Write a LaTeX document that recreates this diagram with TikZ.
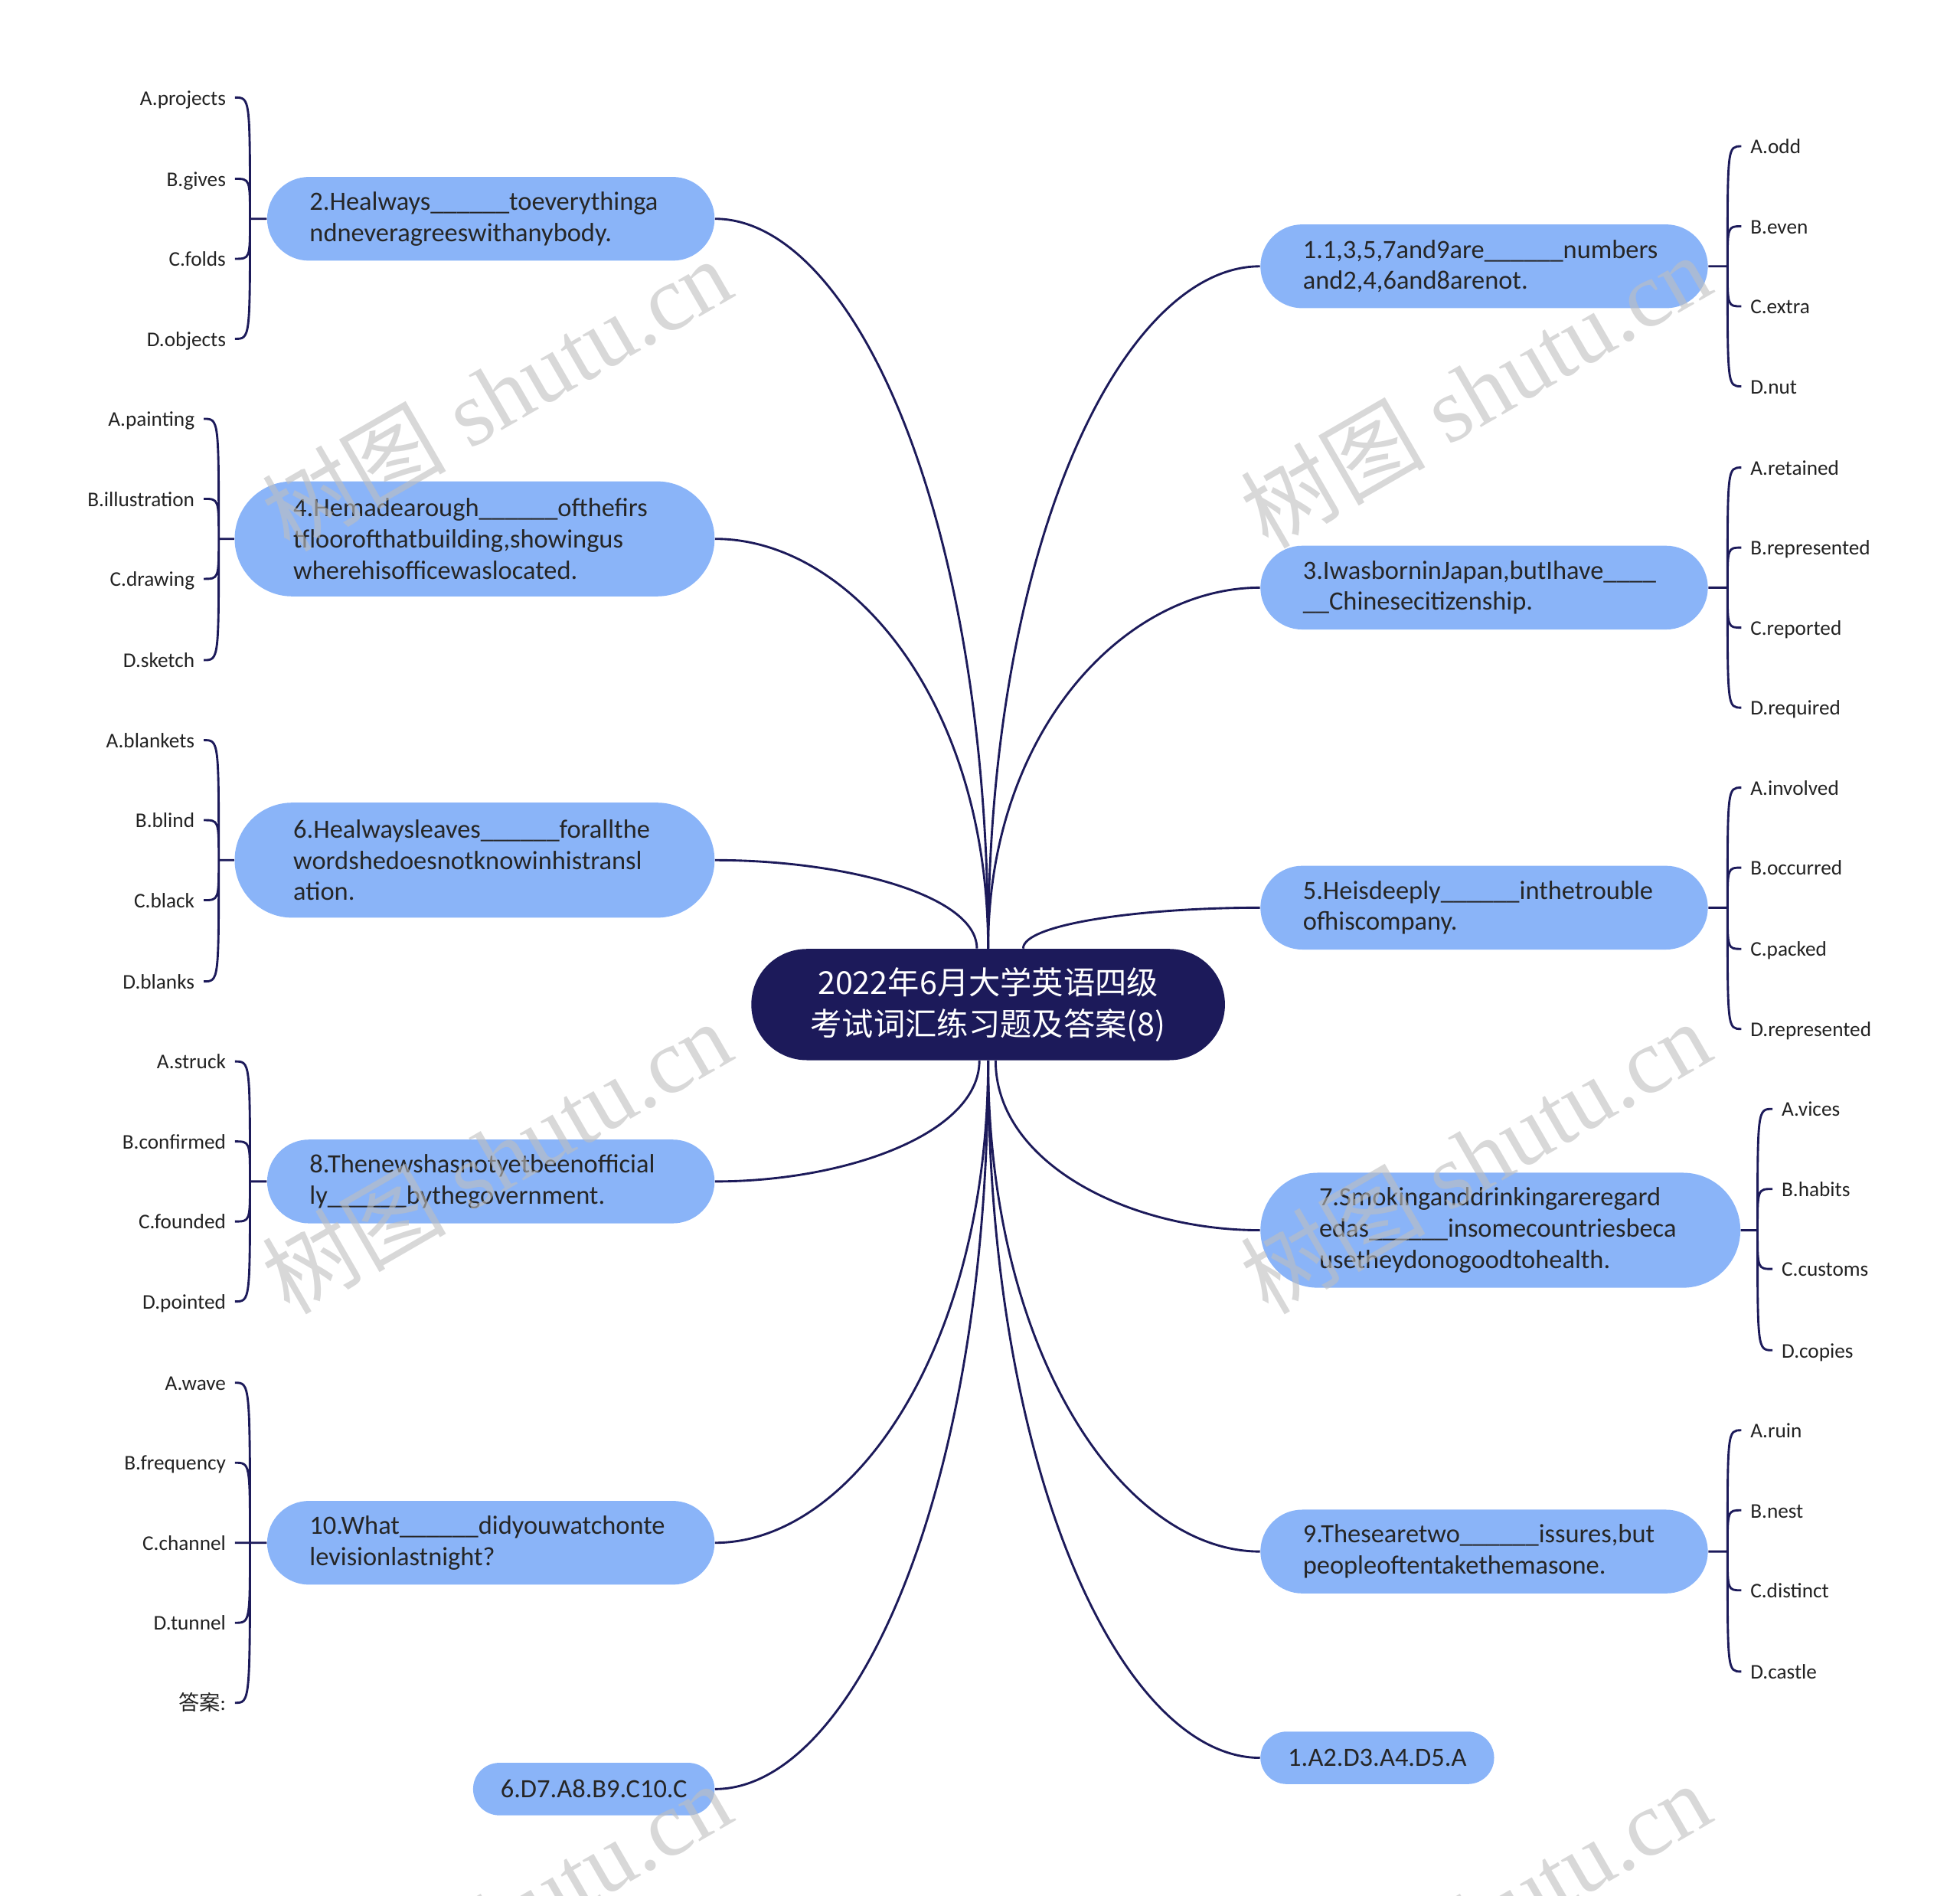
\documentclass[tikz,border=0pt]{standalone}
\usepackage{fontspec}
\setmainfont{Carlito}
\newfontfamily\cjk{Noto Sans CJK SC}
\newfontfamily\wmserif{Liberation Serif}
\usetikzlibrary{calc}
\definecolor{navyline}{RGB}{28,26,90}
\definecolor{topicblue}{RGB}{138,180,248}
\definecolor{leafgray}{RGB}{34,34,34}
\definecolor{markgray}{RGB}{190,190,190}
\newcommand{\qgap}{\_\_\_\_\_\_}

\begin{document}
\begin{tikzpicture}[
    x=0.02cm, y=-0.02cm,
    % Style definitions
    rootbox/.style={fill=navyline, text=white, rounded corners=0.89cm, align=center, minimum width=7.58cm, minimum height=1.78cm, inner sep=0pt, font=\cjk\fontsize{14.4}{18.7}\selectfont},
    qbox/.style={fill=topicblue, text=black!85, rounded corners=0.67cm, text width=5.8cm, align=left, inner xsep=0.68cm, inner ysep=0pt, minimum height=1.34cm, font=\fontsize{12}{14.2}\selectfont},
    qboxtall/.style={qbox, rounded corners=0.92cm, inner xsep=0.94cm, minimum height=1.84cm},
    ansbox/.style={fill=topicblue, text=black!85, rounded corners=0.42cm, inner xsep=0.44cm, inner ysep=0pt, minimum height=0.84cm, font=\fontsize{12}{14.2}\selectfont},
    leafl/.style={anchor=east, inner xsep=0.14cm, inner ysep=1pt, text height=7.8pt, text depth=1pt, text=leafgray, font=\fontsize{9.5}{11}\selectfont},
    leafr/.style={leafl, anchor=west},
    branch/.style={draw=navyline, line width=1pt, to path={.. controls ($(\tikztostart)!0.6!(\tikztostart|-\tikztotarget)$) and ($(\tikztotarget)!0.5!(\tikztotarget-|\tikztostart)$) .. (\tikztotarget)}},
    twig/.style={draw=navyline, line width=1pt, to path={.. controls (\tikztostart|-\tikztotarget) .. (\tikztotarget)}},
    watermark/.style={rotate=30, text=markgray, opacity=0.6, inner sep=0pt, font=\wmserif\fontsize{42}{42}\selectfont}
]
    \useasboundingbox (0,0) rectangle (1568,1516);
    \clip (0,0) rectangle (1568,1516);

    % === CENTRE ===
    \node (root) [rootbox] at (790.5,803.5) {2022年6月大学英语四级\\考试词汇练习题及答案(8)};

    % === RIGHT SIDE ===
    \node (q1) [qbox, anchor=west] at (1008,213) {1.1,3,5,7and9are\qgap numbers\\and2,4,6and8arenot.};
    \node (q3) [qbox, anchor=west] at (1008,470) {3.IwasborninJapan,butIhave\_\_\_\_\\\_\_Chinesecitizenship.};
    \node (q5) [qbox, anchor=west] at (1008,726) {5.Heisdeeply\qgap inthetrouble\\ofhiscompany.};
    \node (q7) [qboxtall, anchor=west] at (1008,984) {7.Smokinganddrinkingareregard\\edas\qgap insomecountriesbeca\\usetheydonogoodtohealth.};
    \node (q9) [qbox, anchor=west] at (1008,1241) {9.Thesearetwo\qgap issures,but\\peopleoftentakethemasone.};
    \node (ans1) [ansbox, anchor=west] at (1008,1406) {1.A2.D3.A4.D5.A};

    % === LEFT SIDE ===
    \node (q2) [qbox, anchor=east] at (572,175) {2.Healways\qgap toeverythinga\\ndneveragreeswithanybody.};
    \node (q4) [qboxtall, anchor=east] at (572,431) {4.Hemadearough\qgap ofthefirs\\tfloorofthatbuilding,showingus\\wherehisofficewaslocated.};
    \node (q6) [qboxtall, anchor=east] at (572,688) {6.Healwaysleaves\qgap forallthe\\wordshedoesnotknowinhistransl\\ation.};
    \node (q8) [qbox, anchor=east] at (572,945) {8.Thenewshasnotyetbeenofficial\\ly\qgap bythegovernment.};
    \node (q10) [qbox, anchor=east] at (572,1234) {10.What\qgap didyouwatchonte\\levisionlastnight?};
    \node (ans2) [ansbox, anchor=east] at (572,1431) {6.D7.A8.B9.C10.C};

    \draw [branch] (root.north) to (q1.west);
    \draw [branch] (root.north) to (q3.west);
    \draw [branch] ($(root.north)+(28,0)$) to (q5.west);
    \draw [branch] ($(root.south)+(6,0)$) to (q7.west);
    \draw [branch] (root.south) to (q9.west);
    \draw [branch] (root.south) to (ans1.west);
    \draw [branch] (root.north) to (q2.east);
    \draw [branch] (root.north) to (q4.east);
    \draw [branch] ($(root.north)+(-9,0)$) to (q6.east);
    \draw [branch] ($(root.south)+(-7,0)$) to (q8.east);
    \draw [branch] (root.south) to (q10.east);
    \draw [branch] (root.south) to (ans2.east);

    % === OPTIONS, RIGHT ===
    \coordinate (q1s) at (1382,213);
    \node (q1_a) [leafr] at (1393,117) {A.odd};
    \node (q1_b) [leafr] at (1393,181) {B.even};
    \node (q1_c) [leafr] at (1393,245) {C.extra};
    \node (q1_d) [leafr] at (1393,309) {D.nut};
    \draw [twig] (q1.east) -- (q1s) (q1s) to (q1_a.west) (q1s) to (q1_b.west) (q1s) to (q1_c.west) (q1s) to (q1_d.west);

    \coordinate (q3s) at (1382,470);
    \node (q3_a) [leafr] at (1393,374) {A.retained};
    \node (q3_b) [leafr] at (1393,438) {B.represented};
    \node (q3_c) [leafr] at (1393,502) {C.reported};
    \node (q3_d) [leafr] at (1393,566) {D.required};
    \draw [twig] (q3.east) -- (q3s) (q3s) to (q3_a.west) (q3s) to (q3_b.west) (q3s) to (q3_c.west) (q3s) to (q3_d.west);

    \coordinate (q5s) at (1382,726);
    \node (q5_a) [leafr] at (1393,630) {A.involved};
    \node (q5_b) [leafr] at (1393,694) {B.occurred};
    \node (q5_c) [leafr] at (1393,759) {C.packed};
    \node (q5_d) [leafr] at (1393,823) {D.represented};
    \draw [twig] (q5.east) -- (q5s) (q5s) to (q5_a.west) (q5s) to (q5_b.west) (q5s) to (q5_c.west) (q5s) to (q5_d.west);

    \coordinate (q7s) at (1406,984);
    \node (q7_a) [leafr] at (1418,887) {A.vices};
    \node (q7_b) [leafr] at (1418,951) {B.habits};
    \node (q7_c) [leafr] at (1418,1015) {C.customs};
    \node (q7_d) [leafr] at (1418,1080) {D.copies};
    \draw [twig] (q7.east) -- (q7s) (q7s) to (q7_a.west) (q7s) to (q7_b.west) (q7s) to (q7_c.west) (q7s) to (q7_d.west);

    \coordinate (q9s) at (1382,1241);
    \node (q9_a) [leafr] at (1393,1144) {A.ruin};
    \node (q9_b) [leafr] at (1393,1208) {B.nest};
    \node (q9_c) [leafr] at (1393,1272) {C.distinct};
    \node (q9_d) [leafr] at (1393,1337) {D.castle};
    \draw [twig] (q9.east) -- (q9s) (q9s) to (q9_a.west) (q9s) to (q9_b.west) (q9s) to (q9_c.west) (q9s) to (q9_d.west);

    % === OPTIONS, LEFT ===
    \coordinate (q2s) at (200,175);
    \node (q2_a) [leafl] at (188,78) {A.projects};
    \node (q2_b) [leafl] at (188,143) {B.gives};
    \node (q2_c) [leafl] at (188,207) {C.folds};
    \node (q2_d) [leafl] at (188,271) {D.objects};
    \draw [twig] (q2.west) -- (q2s) (q2s) to (q2_a.east) (q2s) to (q2_b.east) (q2s) to (q2_c.east) (q2s) to (q2_d.east);

    \coordinate (q4s) at (175,431);
    \node (q4_a) [leafl] at (163,335) {A.painting};
    \node (q4_b) [leafl] at (163,399) {B.illustration};
    \node (q4_c) [leafl] at (163,463) {C.drawing};
    \node (q4_d) [leafl] at (163,528) {D.sketch};
    \draw [twig] (q4.west) -- (q4s) (q4s) to (q4_a.east) (q4s) to (q4_b.east) (q4s) to (q4_c.east) (q4s) to (q4_d.east);

    \coordinate (q6s) at (175,688);
    \node (q6_a) [leafl] at (163,592) {A.blankets};
    \node (q6_b) [leafl] at (163,656) {B.blind};
    \node (q6_c) [leafl] at (163,720) {C.black};
    \node (q6_d) [leafl] at (163,785) {D.blanks};
    \draw [twig] (q6.west) -- (q6s) (q6s) to (q6_a.east) (q6s) to (q6_b.east) (q6s) to (q6_c.east) (q6s) to (q6_d.east);

    \coordinate (q8s) at (200,945);
    \node (q8_a) [leafl] at (188,849) {A.struck};
    \node (q8_b) [leafl] at (188,913) {B.confirmed};
    \node (q8_c) [leafl] at (188,977) {C.founded};
    \node (q8_d) [leafl] at (188,1041) {D.pointed};
    \draw [twig] (q8.west) -- (q8s) (q8s) to (q8_a.east) (q8s) to (q8_b.east) (q8s) to (q8_c.east) (q8s) to (q8_d.east);

    \coordinate (q10s) at (200,1234);
    \node (q10_a) [leafl] at (188,1106) {A.wave};
    \node (q10_b) [leafl] at (188,1170) {B.frequency};
    \node (q10_c) [leafl] at (188,1234) {C.channel};
    \node (q10_d) [leafl] at (188,1298) {D.tunnel};
    \node (q10_e) [leafl] at (188,1362) {{\cjk 答案}:};
    \draw [twig] (q10.west) -- (q10s) (q10s) to (q10_a.east) (q10s) to (q10_b.east) (q10s) to (q10_c.east) (q10s) to (q10_d.east) (q10s) to (q10_e.east);

    % === WATERMARK ===
    \node (wm1) [watermark] at (397,315) {{\cjk 树图} shutu.cn};
    \node (wm2) [watermark] at (1180,312) {{\cjk 树图} shutu.cn};
    \node (wm3) [watermark] at (397,925) {{\cjk 树图} shutu.cn};
    \node (wm4) [watermark] at (1180,925) {{\cjk 树图} shutu.cn};
    \node (wm5) [watermark] at (397,1535) {{\cjk 树图} shutu.cn};
    \node (wm6) [watermark] at (1180,1535) {{\cjk 树图} shutu.cn};

\end{tikzpicture}
\end{document}
